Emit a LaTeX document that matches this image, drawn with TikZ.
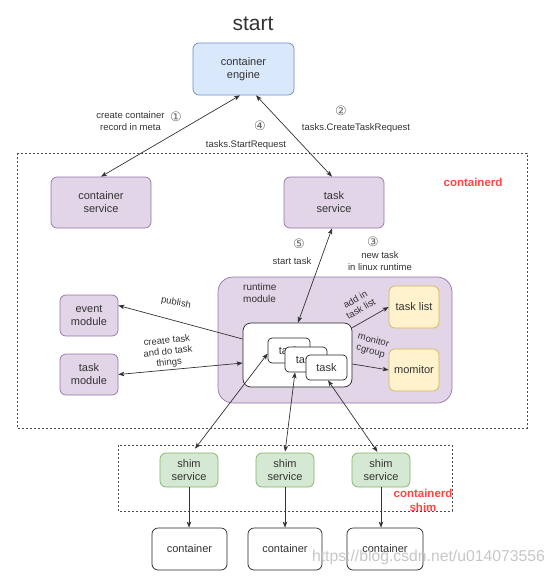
\documentclass[tikz,border=0pt]{standalone}
\usepackage{fontspec}
\setmainfont{Liberation Sans}
\newfontfamily\dejavu{DejaVu Sans}
\usetikzlibrary{arrows.meta}
\definecolor{txt}{HTML}{333333}
\definecolor{lineC}{HTML}{333333}
\definecolor{purpL}{HTML}{E1D5E7}
\definecolor{purpD}{HTML}{9673A6}
\definecolor{blueL}{HTML}{DAE8FC}
\definecolor{blueD}{HTML}{6C8EBF}
\definecolor{greenL}{HTML}{D5E8D4}
\definecolor{greenD}{HTML}{82B366}
\definecolor{yelL}{HTML}{FFF2CC}
\definecolor{yelD}{HTML}{D6B656}
\definecolor{redT}{HTML}{FF4545}
\begin{document}
\begin{tikzpicture}[x=1pt,y=-1pt,
  text=txt,
  base/.style={draw, rounded corners=6pt, align=center, inner sep=0pt, line width=0.7pt,
    font=\fontsize{11}{13}\selectfont},
  purp/.style={base, draw=purpD, fill=purpL},
  blue/.style={base, draw=blueD, fill=blueL},
  green/.style={base, draw=greenD, fill=greenL},
  yel/.style={base, draw=yelD, fill=yelL},
  white/.style={base, draw=black!85, fill=white},
  lbl/.style={font=\fontsize{9.5}{12}\selectfont, align=center, inner sep=0pt},
  num/.style={font=\dejavu\fontsize{13}{14}\selectfont, inner sep=0pt, text=black!60},
  redlbl/.style={font=\bfseries\fontsize{11.5}{14}\selectfont, text=redT, align=center, inner sep=0pt},
  dbox/.style={draw=black!70, line width=0.7pt, dash pattern=on 2pt off 2pt},
  ar/.style={draw=lineC, line width=0.7pt, -{Stealth[length=6pt,width=4.5pt,inset=1.5pt]}},
  dar/.style={draw=lineC, line width=0.7pt, {Stealth[length=6pt,width=4.5pt,inset=1.5pt]}-{Stealth[length=6pt,width=4.5pt,inset=1.5pt]}},
]
\path[use as bounding box] (0,0) rectangle (555,576);

% containers (dashed)
\draw[dbox] (17,153) rectangle (527,428);
\draw[dbox] (118,445) rectangle (452,511);

\node[font=\fontsize{21}{24}\selectfont] (start) at (253,24) {start};

\node[blue, minimum width=101pt, minimum height=52pt] (ce) at (243.5,69) {container\\engine};
\node[purp, minimum width=100pt, minimum height=51pt] (cs) at (101,202.5) {container\\service};
\node[purp, minimum width=100pt, minimum height=51pt] (ts) at (334,202.5) {task\\service};
\node[redlbl] (cd) at (473,182) {containerd};

% runtime module
\node[purp, rounded corners=15pt, minimum width=234pt, minimum height=126pt] (rm) at (335,340) {};
\node[font=\fontsize{10}{12}\selectfont, align=left, inner sep=0pt, anchor=north west] (rmt) at (243,283) {runtime\\module};
\node[white, rounded corners=8pt, minimum width=109pt, minimum height=64pt] (inner) at (297.5,355) {};
\node[white, rounded corners=4pt, minimum width=42pt, minimum height=25pt] (t1) at (289,350.5) {task};
\node[white, rounded corners=4pt, minimum width=42pt, minimum height=25pt] (t2) at (306,359.5) {task};
\node[white, rounded corners=4pt, minimum width=41pt, minimum height=25pt] (t3) at (326.5,367.5) {task};
\node[yel, minimum width=50pt, minimum height=42pt] (tl) at (414,307) {task list};
\node[yel, minimum width=50pt, minimum height=42pt] (mo) at (414,370) {momitor};

\node[purp, minimum width=58pt, minimum height=41pt] (em) at (89,315.5) {event\\module};
\node[purp, minimum width=58pt, minimum height=41pt] (tm) at (89,374.5) {task\\module};

% shims
\node[green, minimum width=58pt, minimum height=34pt] (s1) at (189,470) {shim\\service};
\node[green, minimum width=58pt, minimum height=34pt] (s2) at (285,470) {shim\\service};
\node[green, minimum width=58pt, minimum height=34pt] (s3) at (381,470) {shim\\service};
\node[redlbl] (cds) at (423,500) {containerd\\shim};

\node[white, minimum width=75pt, minimum height=42pt] (c1) at (189.5,549) {container};
\node[white, minimum width=74pt, minimum height=42pt] (c2) at (285,549) {container};
\node[white, minimum width=76pt, minimum height=42pt] (c3) at (385,549) {container};

% labels
\node[lbl] (l1) at (130.5,121) {create container\\record in meta};
\node[num] (n1) at (176,117) {①};
\node[num] (n4) at (260,126) {④};
\node[lbl] (l4) at (246,145) {tasks.StartRequest};
\node[num] (n2) at (341,111) {②};
\node[lbl] (l2) at (356,128) {tasks.CreateTaskRequest};
\node[num] (n5) at (299,244) {⑤};
\node[lbl] (l5) at (292,261) {start task};
\node[num] (n3) at (373,242) {③};
\node[lbl] (l3) at (380,261.5) {new task\\in linux runtime};
\node[lbl, rotate=-10] (lp) at (176,303) {publish};
\node[lbl, rotate=6, font=\fontsize{9.5}{11}\selectfont] (lc) at (168,352) {create task\\and do task\\things};
\node[lbl, rotate=30, font=\fontsize{9.5}{11}\selectfont] (la) at (358,304) {add in\\task list};
\node[lbl, rotate=-15, font=\fontsize{9.5}{11}\selectfont] (lm) at (372,346) {monitor\\cgroup};

% connectors
\draw[dar] (cs.north) -- ([xshift=-3.5pt]ce.south);
\draw[dar] ([xshift=12.5pt]ce.south) -- ([xshift=-2pt]ts.north);
\draw[dar] ([xshift=-2pt]ts.south) -- ([xshift=0.5pt]inner.north);
\draw[ar] ([yshift=16pt]inner.west) -- ([yshift=10pt]em.east);
\draw[dar] (tm.east) -- ([yshift=-8pt]inner.west);
\draw[ar] ([yshift=-5pt]inner.north east) -- (tl.west);
\draw[ar] ([yshift=-9pt]inner.east) -- (mo.west);
\draw[dar, shorten <=5pt] ([xshift=3pt]s1.north) -- ([yshift=-3pt]t1.west);
\draw[dar, shorten <=1pt] (s2.north) -- ([xshift=-11pt]t2.south);
\draw[dar, shorten <=1pt] ([xshift=-3pt]s3.north) -- ([xshift=1.5pt]t3.south);
\draw[ar] (s1.south) -- (s1.south |- c1.north);
\draw[ar] (s2.south) -- (s2.south |- c2.north);
\draw[ar] (s3.south) -- (s3.south |- c3.north);

% watermark
\node[font=\fontsize{15.75}{18}\selectfont, text=black!22, inner sep=0pt] (wm) at (428.5,557) {https://blog.csdn.net/u014073556};
\end{tikzpicture}
\end{document}
